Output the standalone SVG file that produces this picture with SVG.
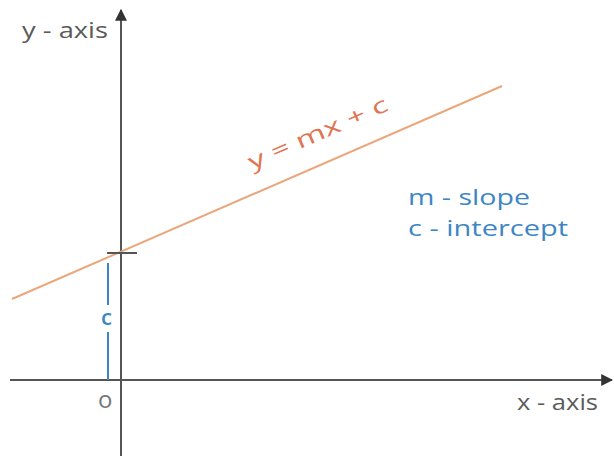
<svg xmlns="http://www.w3.org/2000/svg" width="614" height="456" viewBox="0 0 614 456">
<style>
.ax{stroke:#555;stroke-width:2;fill:none}
.lbl{font-family:"Open Sans","DejaVu Sans",sans-serif;fill:#5a5a5a;font-size:22px;font-weight:500}
.blue{font-family:"Open Sans","DejaVu Sans",sans-serif;fill:#3d86c6;font-size:22px;font-weight:500}
.org{font-family:"Open Sans","DejaVu Sans",sans-serif;fill:#e07452;font-size:22px;font-weight:500}
</style>
<defs>
<marker id="ah" viewBox="0 0 10 10" refX="9" refY="5" markerWidth="6" markerHeight="6" orient="auto"><path d="M0,0L10,5L0,10z" fill="#333"/></marker>
</defs>
<rect width="614" height="456" fill="#fff"/>
<g id="connectors">
<line class="ax" x1="121" y1="456" x2="121" y2="10" marker-end="url(#ah)"/>
<line class="ax" x1="10" y1="380" x2="612" y2="380" marker-end="url(#ah)"/>
<line x1="12" y1="299" x2="502" y2="86" stroke="#eaa77c" stroke-width="2"/>
<line x1="107" y1="253" x2="137" y2="253" stroke="#555" stroke-width="2"/>
<line x1="108" y1="263" x2="108" y2="305" stroke="#3d86c6" stroke-width="2"/>
<line x1="108" y1="332" x2="108" y2="380" stroke="#3d86c6" stroke-width="2"/>
</g>
<g id="labels">
<text class="lbl" x="22" y="38" textLength="86" lengthAdjust="spacingAndGlyphs">y - axis</text>
<text class="lbl" x="517" y="410" textLength="81" lengthAdjust="spacingAndGlyphs">x - axis</text>
<text class="lbl" x="98" y="408" style="font-size:24px;font-weight:400;fill:#777">o</text>
<text class="blue" x="101" y="325" style="font-weight:600">c</text>
<text class="blue" x="408" y="205" textLength="122" lengthAdjust="spacingAndGlyphs">m - slope</text>
<text class="blue" x="408" y="236" textLength="160" lengthAdjust="spacingAndGlyphs">c - intercept</text>
<text class="org" transform="translate(252,170) rotate(-23.6)" textLength="150" lengthAdjust="spacingAndGlyphs">y = mx + c</text>
</g>
</svg>
